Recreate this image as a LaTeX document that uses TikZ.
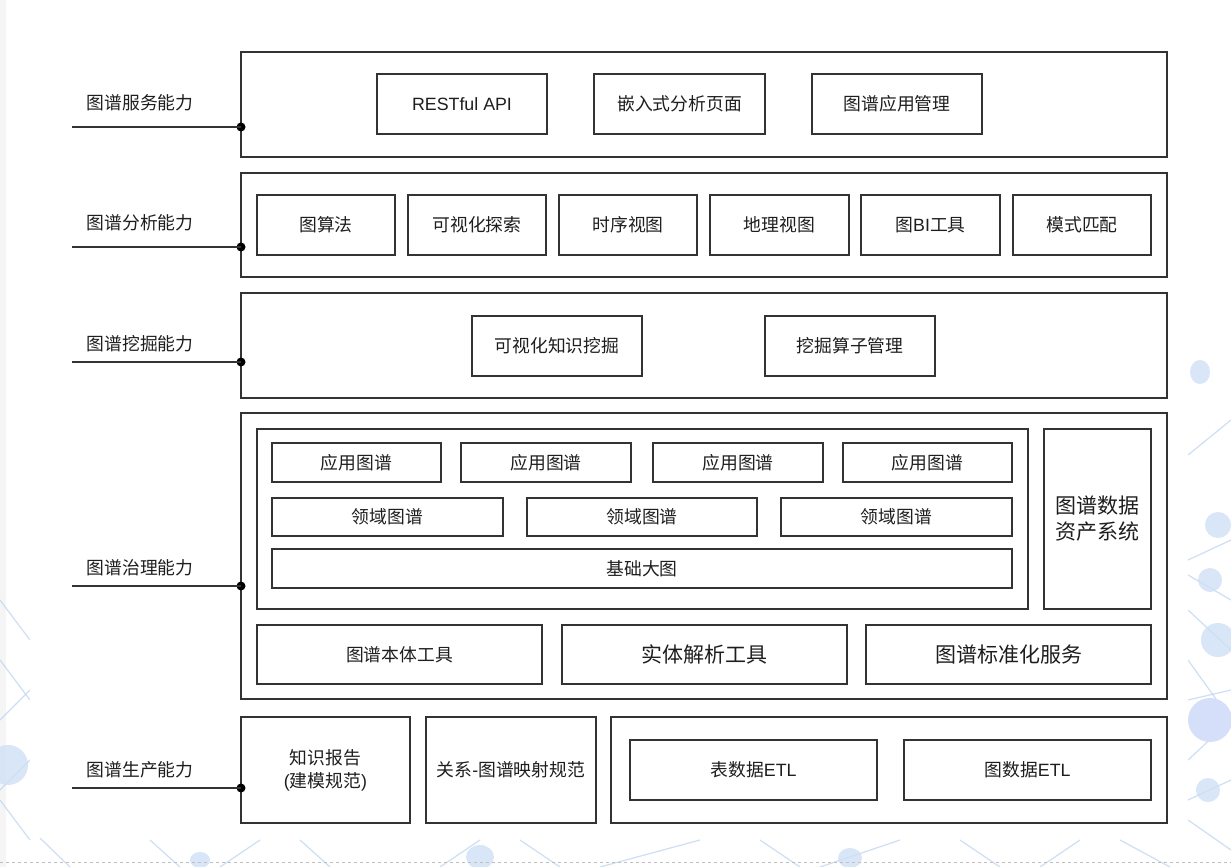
\documentclass[tikz,border=0pt]{standalone}
\usepackage{fontspec}
\setmainfont{Noto Sans CJK SC}
\newfontfamily\lat{Liberation Sans}
\definecolor{ln}{HTML}{333333}
\definecolor{tx}{HTML}{1E1E1E}
\definecolor{deco}{HTML}{CFE0F6}
\definecolor{decol}{HTML}{B9D2F0}
% \mybox[style]{name}{x1}{y1}{x2}{y2}{text}
\newcommand\mybox[7][]{\node[bx,#1,minimum width={(#5-#3)*1pt},minimum height={(#6-#4)*1pt}] (#2) at ({(#3+#5)/2},{(#4+#6)/2}) {#7};}
\begin{document}
\begin{tikzpicture}[x=1pt,y=-1pt,
  bx/.style={draw=ln,line width=1.4pt,inner sep=0pt,outer sep=0pt,text=tx,align=center,
             font=\fontsize{17.8}{23}\selectfont},
  big/.style={font=\fontsize{21}{26}\selectfont},
  lbl/.style={inner sep=0pt,text=tx,font=\fontsize{17.8}{21}\selectfont},
  conn/.style={draw=ln,line width=1.4pt},
  dotn/.style={circle,fill=black,inner sep=0pt,minimum size=9pt},
  dl/.style={draw=decol,line width=1.2pt,opacity=0.7},
  dc/.style={fill=deco,opacity=0.8}]
\useasboundingbox (0,0) rectangle (1231,867);
% background decoration
\fill[white] (0,0) rectangle (1231,867);
\fill[black!4] (0,0) rectangle (6,867);
\draw[dl] (1188,455) -- (1231,420);
\draw[dl] (1188,560) -- (1231,540);
\draw[dl] (1188,575) -- (1231,600);
\draw[dl] (1188,610) -- (1231,650);
\draw[dl] (1188,660) -- (1231,720);
\draw[dl] (1188,700) -- (1231,690);
\draw[dl] (1188,760) -- (1231,720);
\draw[dl] (1188,800) -- (1231,780);
\draw[dl] (1188,820) -- (1231,850);
\fill[dc] (1200,372) ellipse (10 and 12);
\fill[dc] (1218,525) circle (13);
\fill[dc] (1210,580) circle (12);
\fill[dc] (1218,640) circle (17);
\fill[deco!90!blue!60] (1210,720) circle (22);
\fill[dc] (1208,790) circle (12);
\draw[dl] (0,600) -- (30,640);
\draw[dl] (0,660) -- (30,700);
\draw[dl] (0,720) -- (30,690);
\draw[dl] (0,790) -- (30,760);
\draw[dl] (0,800) -- (30,840);
\fill[dc] (8,765) circle (20);
\draw[dl] (40,838) -- (70,867);
\draw[dl] (150,840) -- (180,867);
\draw[dl] (220,867) -- (260,840);
\draw[dl] (300,840) -- (330,867);
\draw[dl] (440,867) -- (480,840);
\draw[dl] (520,840) -- (560,867);
\draw[dl] (600,867) -- (700,840);
\draw[dl] (760,840) -- (800,867);
\draw[dl] (820,867) -- (900,840);
\draw[dl] (960,840) -- (1000,867);
\draw[dl] (1040,867) -- (1080,840);
\draw[dl] (1120,840) -- (1170,867);
\fill[dc] (480,857) ellipse (14 and 12);
\fill[dc] (850,858) ellipse (12 and 10);
\fill[dc] (200,860) ellipse (10 and 8);
\draw[black!25,dashed,line width=0.8pt] (0,862) -- (1231,862);
\fill[white] (30,0) rectangle (1188,838);

% ---------- row 1: service
\mybox{r1}{241}{52}{1167}{157}{}
\mybox{a1}{377}{74}{547}{134}{{\lat RESTful API}}
\mybox{a2}{594}{74}{765}{134}{嵌入式分析页面}
\mybox{a3}{812}{74}{982}{134}{图谱应用管理}

% ---------- row 2: analysis
\mybox{r2}{241}{173}{1167}{277}{}
\mybox{b1}{257}{195}{395}{255}{图算法}
\mybox{b2}{408}{195}{546}{255}{可视化探索}
\mybox{b3}{559}{195}{697}{255}{时序视图}
\mybox{b4}{710}{195}{849}{255}{地理视图}
\mybox{b5}{861}{195}{1000}{255}{图{\lat BI}工具}
\mybox{b6}{1013}{195}{1151}{255}{模式匹配}

% ---------- row 3: mining
\mybox{r3}{241}{293}{1167}{398}{}
\mybox{c1}{472}{316}{642}{376}{可视化知识挖掘}
\mybox{c2}{765}{316}{935}{376}{挖掘算子管理}

% ---------- row 4: governance
\mybox{r4}{241}{413}{1167}{699}{}
\mybox{g0}{257}{429}{1028}{609}{}
\mybox{g1}{272}{443}{441}{482}{应用图谱}
\mybox{g2}{461}{443}{631}{482}{应用图谱}
\mybox{g3}{653}{443}{823}{482}{应用图谱}
\mybox{g4}{843}{443}{1012}{482}{应用图谱}
\mybox{h1}{272}{498}{503}{536}{领域图谱}
\mybox{h2}{527}{498}{757}{536}{领域图谱}
\mybox{h3}{781}{498}{1012}{536}{领域图谱}
\mybox{h4}{272}{549}{1012}{588}{基础大图}
\mybox[big]{g5}{1044}{429}{1151}{609}{图谱数据\\资产系统}
\mybox{t1}{257}{625}{542}{684}{图谱本体工具}
\mybox[big]{t2}{562}{625}{847}{684}{实体解析工具}
\mybox[big]{t3}{866}{625}{1151}{684}{图谱标准化服务}

% ---------- row 5: production
\mybox{p1}{241}{717}{410}{823}{知识报告\\{\lat(}建模规范{\lat)}}
\mybox{p2}{426}{717}{596}{823}{关系{\lat-}图谱映射规范}
\mybox{p3}{611}{717}{1167}{823}{}
\mybox{p4}{630}{740}{877}{800}{表数据{\lat ETL}}
\mybox{p5}{904}{740}{1151}{800}{图数据{\lat ETL}}

% ---------- left labels and connectors
\node[lbl] (L1) at (140,103) {图谱服务能力};
\node[lbl] (L2) at (140,223) {图谱分析能力};
\node[lbl] (L3) at (140,344) {图谱挖掘能力};
\node[lbl] (L4) at (140,568) {图谱治理能力};
\node[lbl] (L5) at (140,770) {图谱生产能力};

\coordinate (s1) at (72,127);
\coordinate (s2) at (72,247);
\coordinate (s3) at (72,362);
\coordinate (s4) at (72,586);
\coordinate (s5) at (72,788);
\node[dotn] (d1) at (s1 -| r1.west) {};
\node[dotn] (d2) at (s2 -| r2.west) {};
\node[dotn] (d3) at (s3 -| r3.west) {};
\node[dotn] (d4) at (s4 -| r4.west) {};
\node[dotn] (d5) at (s5 -| p1.west) {};
\draw[conn] (s1) -- (d1.center);
\draw[conn] (s2) -- (d2.center);
\draw[conn] (s3) -- (d3.center);
\draw[conn] (s4) -- (d4.center);
\draw[conn] (s5) -- (d5.center);
\end{tikzpicture}
\end{document}
